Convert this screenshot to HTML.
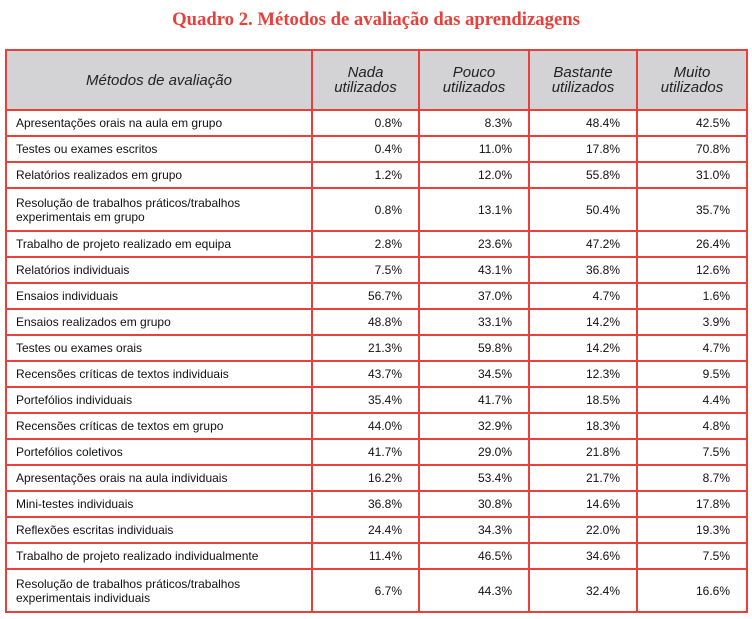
<!DOCTYPE html>
<html><head><meta charset="utf-8"><style>
body{margin:0;background:#fff;width:752px;height:619px;overflow:hidden;font-family:"Liberation Sans",sans-serif;}
.t{position:absolute;top:9px;left:0;width:752px;text-align:center;font-family:"Liberation Serif",serif;font-weight:bold;font-size:18.7px;color:#e8403a;}
table{position:absolute;left:5px;top:49px;border-collapse:collapse;table-layout:fixed;}
td,th{border:2px solid #e8403a;font-size:12px;color:#111;padding:0;}
th{background:#d3d3d5;font-weight:normal;font-style:italic;font-size:15px;height:58px;line-height:15px;color:#222;}
td{height:24px;}
td.l{padding-left:9px;line-height:14px;}
td.n{text-align:right;padding-right:16px;}
tr.b td{height:41px;}
</style></head><body>
<div class="t">Quadro 2. Métodos de avaliação das aprendizagens</div>
<table>
<colgroup><col style="width:306px"><col style="width:107px"><col style="width:110px"><col style="width:108px"><col style="width:110px"></colgroup>
<tr><th>Métodos de avaliação</th><th>Nada<br>utilizados</th><th>Pouco<br>utilizados</th><th>Bastante<br>utilizados</th><th>Muito<br>utilizados</th></tr>
<tr><td class="l">Apresentações orais na aula em grupo</td><td class="n">0.8%</td><td class="n">8.3%</td><td class="n">48.4%</td><td class="n">42.5%</td></tr>
<tr><td class="l">Testes ou exames escritos</td><td class="n">0.4%</td><td class="n">11.0%</td><td class="n">17.8%</td><td class="n">70.8%</td></tr>
<tr><td class="l">Relatórios realizados em grupo</td><td class="n">1.2%</td><td class="n">12.0%</td><td class="n">55.8%</td><td class="n">31.0%</td></tr>
<tr class="b"><td class="l">Resolução de trabalhos práticos/trabalhos<br>experimentais em grupo</td><td class="n">0.8%</td><td class="n">13.1%</td><td class="n">50.4%</td><td class="n">35.7%</td></tr>
<tr><td class="l">Trabalho de projeto realizado em equipa</td><td class="n">2.8%</td><td class="n">23.6%</td><td class="n">47.2%</td><td class="n">26.4%</td></tr>
<tr><td class="l">Relatórios individuais</td><td class="n">7.5%</td><td class="n">43.1%</td><td class="n">36.8%</td><td class="n">12.6%</td></tr>
<tr><td class="l">Ensaios individuais</td><td class="n">56.7%</td><td class="n">37.0%</td><td class="n">4.7%</td><td class="n">1.6%</td></tr>
<tr><td class="l">Ensaios realizados em grupo</td><td class="n">48.8%</td><td class="n">33.1%</td><td class="n">14.2%</td><td class="n">3.9%</td></tr>
<tr><td class="l">Testes ou exames orais</td><td class="n">21.3%</td><td class="n">59.8%</td><td class="n">14.2%</td><td class="n">4.7%</td></tr>
<tr><td class="l">Recensões críticas de textos individuais</td><td class="n">43.7%</td><td class="n">34.5%</td><td class="n">12.3%</td><td class="n">9.5%</td></tr>
<tr><td class="l">Portefólios individuais</td><td class="n">35.4%</td><td class="n">41.7%</td><td class="n">18.5%</td><td class="n">4.4%</td></tr>
<tr><td class="l">Recensões críticas de textos em grupo</td><td class="n">44.0%</td><td class="n">32.9%</td><td class="n">18.3%</td><td class="n">4.8%</td></tr>
<tr><td class="l">Portefólios coletivos</td><td class="n">41.7%</td><td class="n">29.0%</td><td class="n">21.8%</td><td class="n">7.5%</td></tr>
<tr><td class="l">Apresentações orais na aula individuais</td><td class="n">16.2%</td><td class="n">53.4%</td><td class="n">21.7%</td><td class="n">8.7%</td></tr>
<tr><td class="l">Mini-testes individuais</td><td class="n">36.8%</td><td class="n">30.8%</td><td class="n">14.6%</td><td class="n">17.8%</td></tr>
<tr><td class="l">Reflexões escritas individuais</td><td class="n">24.4%</td><td class="n">34.3%</td><td class="n">22.0%</td><td class="n">19.3%</td></tr>
<tr><td class="l">Trabalho de projeto realizado individualmente</td><td class="n">11.4%</td><td class="n">46.5%</td><td class="n">34.6%</td><td class="n">7.5%</td></tr>
<tr class="b"><td class="l">Resolução de trabalhos práticos/trabalhos<br>experimentais individuais</td><td class="n">6.7%</td><td class="n">44.3%</td><td class="n">32.4%</td><td class="n">16.6%</td></tr>
</table>
</body></html>
